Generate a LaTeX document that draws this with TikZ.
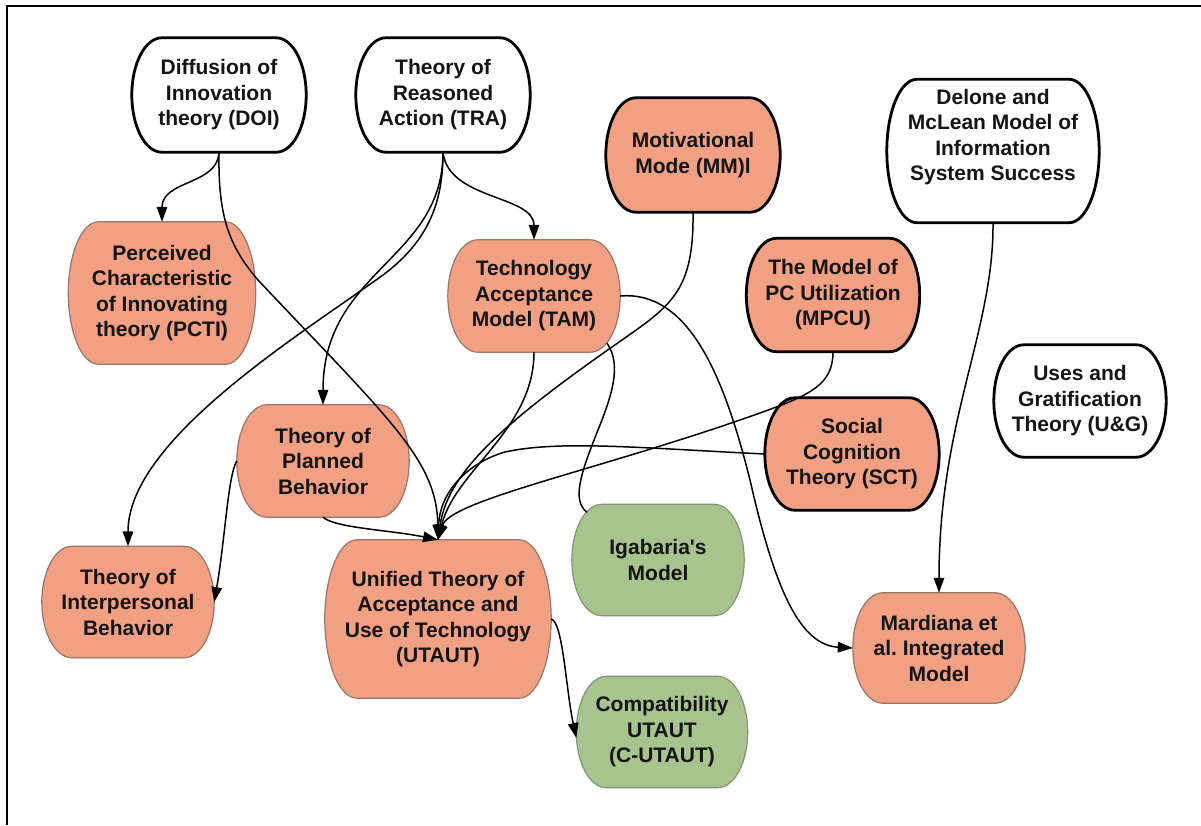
\documentclass[tikz,border=0pt]{standalone}
\usepackage{fontspec}
\setmainfont{Liberation Sans}
\usetikzlibrary{arrows.meta,calc,backgrounds}
\frenchspacing

\definecolor{salmon}{HTML}{F2A084}
\definecolor{salmonedge}{HTML}{9A7466}
\definecolor{sage}{HTML}{A8C48E}
\definecolor{sageedge}{HTML}{7F9670}

% Outline of a box with flat top/bottom and bulging sides, fitted to a node.
% #1 = horizontal corner radius, #2 = path style, #3 = node name
\newcommand\drawpill[3][30]{%
  \path[#2] ([xshift=#1]#3.north west) -- ([xshift=-#1]#3.north east)
    .. controls ([xshift={-0.4477*#1}]#3.north east) and ($(#3.east)!0.5523!(#3.north east)$) .. (#3.east)
    .. controls ($(#3.east)!0.5523!(#3.south east)$) and ([xshift={-0.4477*#1}]#3.south east) .. ([xshift=-#1]#3.south east)
    -- ([xshift=#1]#3.south west)
    .. controls ([xshift={0.4477*#1}]#3.south west) and ($(#3.west)!0.5523!(#3.south west)$) .. (#3.west)
    .. controls ($(#3.west)!0.5523!(#3.north west)$) and ([xshift={0.4477*#1}]#3.north west) .. ([xshift=#1]#3.north west)
    -- cycle;}

\begin{document}
\begin{tikzpicture}[x=1pt,y=-1pt,
  every node/.style={font=\bfseries\fontsize{21}{25.5}\selectfont, align=center, inner sep=0pt, text=black!92},
  whitebox/.style={draw=black, line width=2.8pt, fill=white},
  salmonbold/.style={draw=black, line width=2.8pt, fill=salmon},
  salmonthin/.style={draw=salmonedge, line width=1.2pt, fill=salmon},
  sagethin/.style={draw=sageedge, line width=1.2pt, fill=sage},
  plainlink/.style={line width=1.5pt, black},
  link/.style={plainlink, -{Triangle[length=15pt,width=10.5pt]}}]

\useasboundingbox (0,0) rectangle (1201,825);

% frame
\draw[line width=2.2pt] (7,825) -- (7,6) -- (1201,6);

% nodes (text; outlines are added on the background layer)
\node[minimum width=174, minimum height=114] (doi) at (219,95) {Diffusion of\\Innovation\\theory (DOI)};
\node[minimum width=174, minimum height=114] (tra) at (443,95) {Theory of\\Reasoned\\Action (TRA)};
\node[minimum width=187, minimum height=142] (pcti) at (162,293) {Perceived\\Characteristic\\of Innovating\\theory (PCTI)};
\node[minimum width=172, minimum height=112] (tam) at (534,296) {Technology\\Acceptance\\Model (TAM)};
\node[minimum width=174, minimum height=114] (mm) at (693,155) {Motivational\\Mode (MM)l};
\node[minimum width=212, minimum height=143] (delone) at (993,151) {Delone and\\McLean Model of\\Information\\System Success\\[7pt]~};
\node[minimum width=173, minimum height=113] (mpcu) at (833,295) {The Model of\\PC Utilization\\(MPCU)};
\node[minimum width=172, minimum height=112] (ug) at (1080,401) {Uses and\\Gratification\\Theory (U\&G)};
\node[minimum width=174, minimum height=112] (sct) at (852,454) {Social\\Cognition\\Theory (SCT)};
\node[minimum width=172, minimum height=112] (tpb) at (323,461) {Theory of\\Planned\\Behavior};
\node[minimum width=172, minimum height=111] (tib) at (128,602) {Theory of\\Interpersonal\\Behavior};
\node[minimum width=226, minimum height=158] (utaut) at (438,619) {Unified Theory of\\Acceptance and\\Use of Technology\\(UTAUT)};
\node[minimum width=172, minimum height=111] (iga) at (658,560) {Igabaria\textquotesingle s\\Model};
\node[minimum width=172, minimum height=110] (mard) at (939,648) {Mardiana et\\al.\ Integrated\\Model};
\node[minimum width=171, minimum height=111] (cutaut) at (662,732) {Compatibility\\UTAUT\\(C-UTAUT)};

\begin{scope}[on background layer]
  \drawpill{whitebox}{doi}
  \drawpill{whitebox}{tra}
  \drawpill{whitebox}{delone}
  \drawpill{whitebox}{ug}
  \drawpill{salmonbold}{mm}
  \drawpill{salmonbold}{mpcu}
  \drawpill{salmonbold}{sct}
  \drawpill{salmonthin}{pcti}
  \drawpill{salmonthin}{tam}
  \drawpill{salmonthin}{tpb}
  \drawpill{salmonthin}{tib}
  \drawpill[32]{salmonthin}{utaut}
  \drawpill{salmonthin}{mard}
  \drawpill{sagethin}{iga}
  \drawpill{sagethin}{cutaut}
\end{scope}

% connectors
\draw[link] (doi.south) .. controls (218,185) and (162,180) .. (pcti.north);
\draw[link] (doi.south) .. controls (218,215) and (228,245) .. (258,280)
            .. controls (390,420) and (437,460) .. (utaut.north);
\draw[link] (tra.south) .. controls (448,200) and (534,195) .. (tam.north);
\draw[link] (tra.south) .. controls (443,260) and (323,270) .. (tpb.north);
\draw[link] (tra.south) .. controls (443,200) and (430,240) .. (383,275)
            .. controls (300,335) and (128,440) .. (tib.north);
\draw[link] (tpb.south) .. controls (335,528) and (390,530) .. (utaut.north);
\draw[link] (tpb.west) .. controls (228,475) and (225,540) .. (tib.east);
\draw[link] (tam.south) .. controls (534,430) and (455,470) .. (utaut.north);
\draw[link] (mm.south) .. controls (694,290) and (672,305) .. (622,340)
            .. controls (510,418) and (448,470) .. (utaut.north);
\draw[link] (mpcu.south) .. controls (833,385) and (810,395) .. (760,413)
            .. controls (600,470) and (450,500) .. (utaut.north);
\draw[link] (sct.west) .. controls (640,448) and (560,440) .. (505,452)
            .. controls (470,462) and (440,490) .. (utaut.north);
\draw[link] (tam.east) .. controls (690,290) and (725,380) .. (750,480)
            .. controls (775,590) and (800,645) .. (mard.west);
\draw[plainlink] ([shift={(73,-9)}]tam.south) .. controls (622,365) and (612,395) .. (598,430)
            .. controls (580,475) and (572,500) .. ([shift={(15,8)}]iga.north west);
\draw[link] (delone.south) .. controls (994,330) and (939,420) .. (mard.north);
\draw[link] (utaut.east) .. controls (563,622) and (566,690) .. ([yshift=-6pt]cutaut.west);

\end{tikzpicture}
\end{document}
